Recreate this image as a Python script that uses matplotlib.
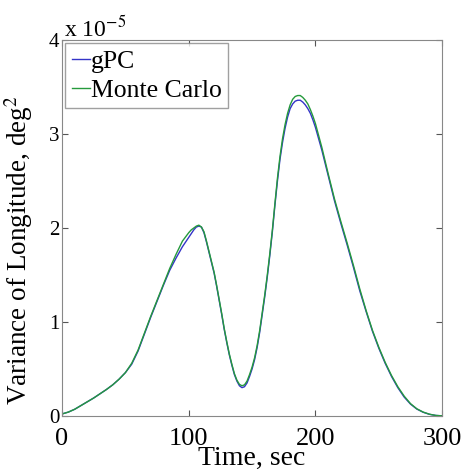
import matplotlib.pyplot as plt
import numpy as np

plt.rcParams["font.family"] = ["Liberation Serif", "DejaVu Serif"]
plt.rcParams["mathtext.fontset"] = "stix"

# variance of longitude, in units of 1e-5 deg^2
time = [0, 5, 10, 15, 20, 25, 30, 35, 40, 45, 50, 55, 60, 65, 70, 75, 80, 85, 90, 95,
        100, 102, 104, 106, 108, 110, 112, 114, 116, 118, 120, 122, 124, 126, 128, 130,
        132, 134, 136, 138, 140, 142, 144, 146, 148, 150, 152, 154, 156, 158, 160, 162,
        164, 166, 168, 170, 172, 174, 176, 178, 180, 182, 184, 186, 188, 190, 192, 194,
        196, 198, 200, 205, 210, 215, 220, 225, 230, 235, 240, 245, 250, 255, 260, 265,
        270, 275, 280, 285, 290, 295, 300]
var_mc = [0.02, 0.04, 0.07, 0.11, 0.15, 0.19, 0.235, 0.28, 0.33, 0.39, 0.46, 0.56, 0.70,
          0.88, 1.06, 1.23, 1.40, 1.57, 1.72, 1.86,
          1.95, 1.98, 2.00, 2.02, 2.03, 2.01, 1.96, 1.86, 1.75, 1.64, 1.53, 1.39, 1.24,
          1.09, 0.93, 0.79, 0.66, 0.55, 0.45, 0.38, 0.335, 0.32, 0.33, 0.37, 0.44, 0.52,
          0.62, 0.75, 0.91, 1.10, 1.29, 1.50, 1.73, 1.98, 2.26, 2.53, 2.76, 2.95, 3.10,
          3.22, 3.31, 3.37, 3.40, 3.41, 3.41, 3.39, 3.36, 3.32, 3.26, 3.19, 3.11, 2.86,
          2.58, 2.31, 2.07, 1.84, 1.60, 1.35, 1.12, 0.91, 0.73, 0.57, 0.43, 0.31, 0.21,
          0.13, 0.075, 0.04, 0.017, 0.004, 0.0]
var_gpc = [0.02, 0.04, 0.07, 0.11, 0.15, 0.19, 0.235, 0.28, 0.33, 0.39, 0.46, 0.55, 0.69,
           0.87, 1.05, 1.22, 1.39, 1.55, 1.68, 1.80,
           1.90, 1.94, 1.98, 2.01, 2.02, 2.01, 1.95, 1.85, 1.74, 1.63, 1.52, 1.38, 1.23,
           1.08, 0.92, 0.78, 0.65, 0.54, 0.44, 0.37, 0.32, 0.30, 0.31, 0.35, 0.42, 0.50,
           0.60, 0.73, 0.89, 1.08, 1.27, 1.48, 1.71, 1.96, 2.24, 2.50, 2.73, 2.91, 3.06,
           3.18, 3.27, 3.32, 3.35, 3.36, 3.36, 3.34, 3.31, 3.27, 3.22, 3.15, 3.07, 2.83,
           2.56, 2.29, 2.05, 1.82, 1.58, 1.33, 1.11, 0.90, 0.72, 0.56, 0.42, 0.30, 0.20,
           0.125, 0.072, 0.038, 0.016, 0.004, 0.0]
scale = 1e-5

fig = plt.figure(figsize=(4.63, 4.72), dpi=100)
ax = fig.add_axes([0.134, 0.119, 0.821, 0.796])

ax.plot(time, np.array(var_gpc) * scale, color="#3434c8", lw=1.0, label="gPC")
ax.plot(time, np.array(var_mc) * scale, color="#259a3c", lw=1.0, label="Monte Carlo")

ax.set_xlim(0, 300)
ax.set_ylim(0, 4e-5)
ax.set_xticks([0, 100, 200, 300])
ax.set_yticks(np.arange(0, 5) * scale)
ax.set_yticklabels(["0", "1", "2", "3", "4"])
ax.tick_params(axis="x", labelsize=19, pad=9)
ax.tick_params(axis="y", labelsize=15, pad=2)
ax.tick_params(direction="in", top=True, right=True, length=4, color="#555555")
for spine in ax.spines.values():
    spine.set_color("#888888")

ax.set_xlabel("Time, sec", fontsize=20, labelpad=-3)
ax.set_ylabel("Variance of Longitude, deg$^2$", fontsize=19.5, labelpad=0)
ax.yaxis.set_label_coords(-0.07, 0.44)
fig.text(0.138, 0.922, "x 10$^{-5}$", fontsize=17, ha="left", va="baseline")

leg = ax.legend(loc="upper left", fontsize=18.5, frameon=True, fancybox=False,
                borderaxespad=0.12, handlelength=0.7, handletextpad=0.05,
                borderpad=0.25, labelspacing=0.25)
leg.get_frame().set_edgecolor("#888888")
leg.get_frame().set_linewidth(1.0)

fig.savefig("out.png", dpi=100)
